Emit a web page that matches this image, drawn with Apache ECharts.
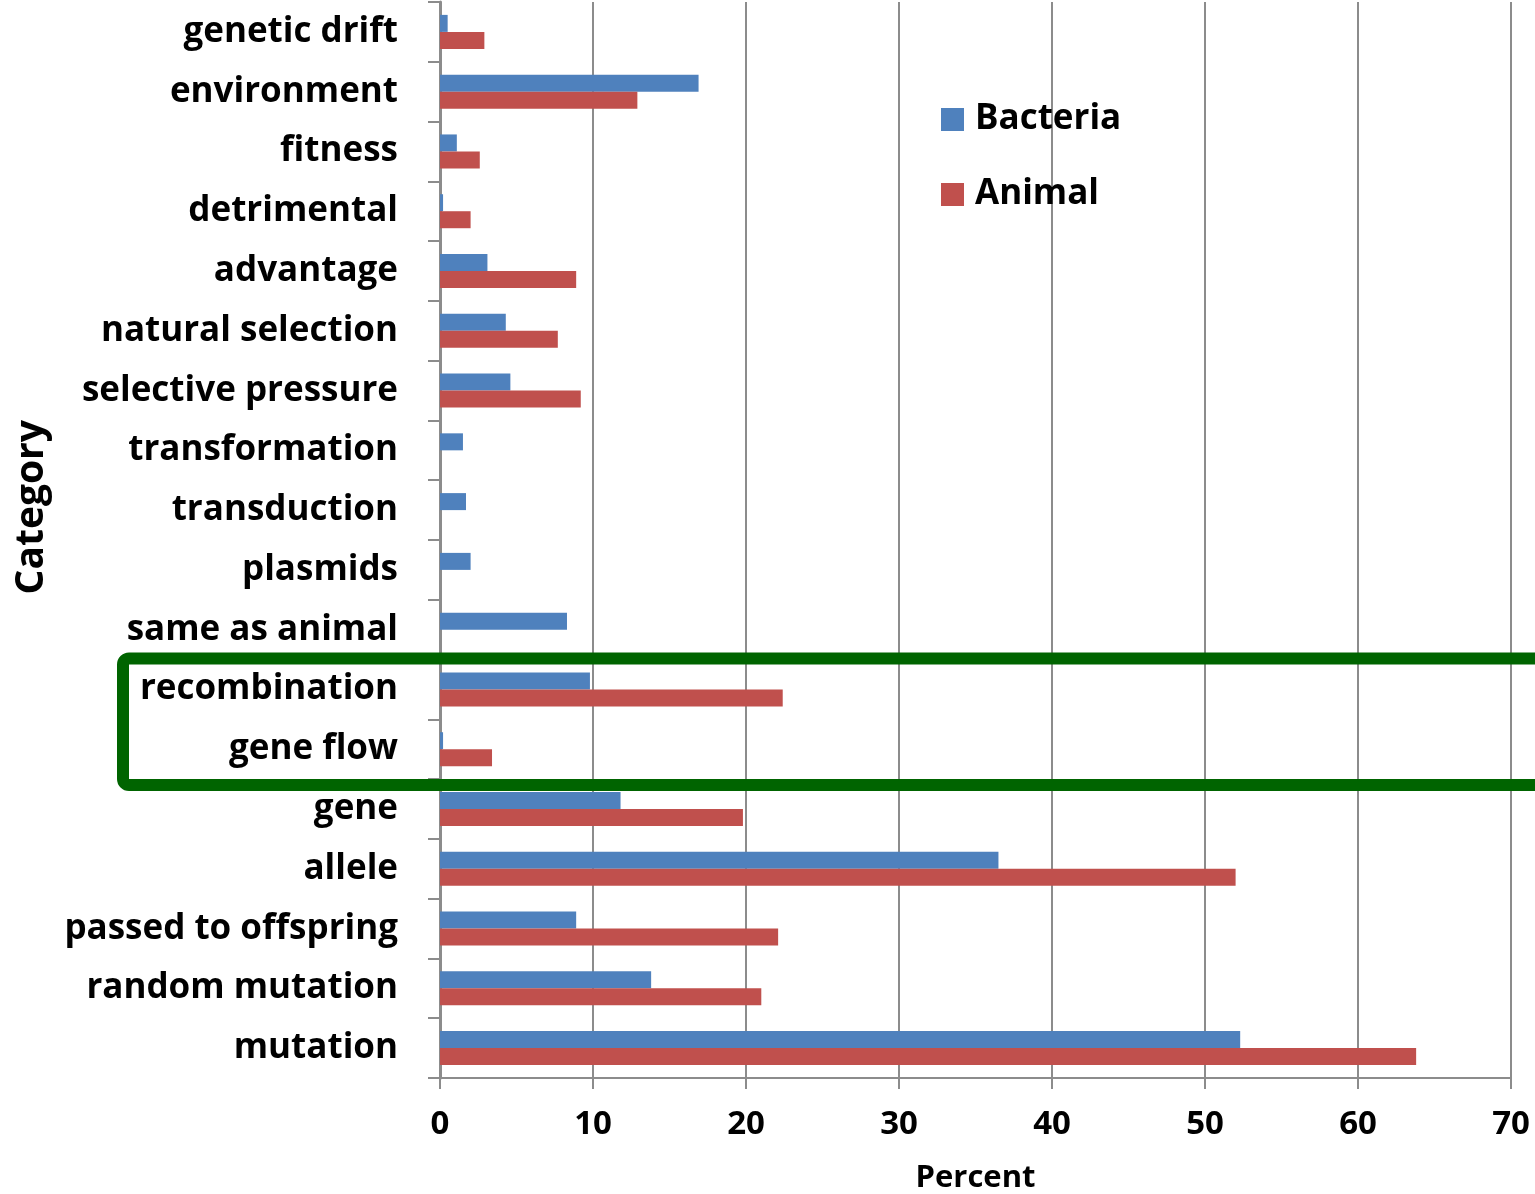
<!DOCTYPE html>
<html>
<head>
<meta charset="utf-8">
<script src="https://cdn.jsdelivr.net/npm/echarts@6/dist/echarts.min.js"></script>
<style>
  html, body { margin: 0; padding: 0; background: #ffffff; }
  #chart { width: 1535px; height: 1194px; }
</style>
</head>
<body>
<div id="chart"></div>
<script>
// Categories, listed top to bottom
const categories = [
  'genetic drift', 'environment', 'fitness', 'detrimental', 'advantage',
  'natural selection', 'selective pressure', 'transformation', 'transduction',
  'plasmids', 'same as animal', 'recombination', 'gene flow', 'gene', 'allele',
  'passed to offspring', 'random mutation', 'mutation'
];

// Percent of responses per category
const bacteria = [0.5, 16.9, 1.1, 0.2, 3.1, 4.3, 4.6, 1.5, 1.7, 2.0, 8.3, 9.8, 0.2, 11.8, 36.5, 8.9, 13.8, 52.3];
const animal   = [2.9, 12.9, 2.6, 2.0, 8.9, 7.7, 9.2, 0, 0, 0, 0, 22.4, 3.4, 19.8, 52.0, 22.1, 21.0, 63.8];

const xTicks = [0, 10, 20, 30, 40, 50, 60, 70];

// Categories framed by the highlight box
const highlighted = ['recombination', 'gene flow'];

const FONT = '"Open Sans", "Liberation Sans", sans-serif';
const AXIS_GREY = '#8c8c8c';

const chart = echarts.init(document.getElementById('chart'));

chart.setOption({
  animation: false,
  backgroundColor: '#ffffff',
  textStyle: { fontFamily: FONT },
  grid: { left: 440, right: 24, top: 2, bottom: 116, containLabel: false },
  legend: {
    orient: 'vertical',
    left: 941,
    top: 102,
    padding: 0,
    itemWidth: 23,
    itemHeight: 23,
    itemGap: 40,
    icon: 'rect',
    data: ['Bacteria', 'Animal'],
    itemStyle: { borderWidth: 0 },
    textStyle: {
      fontFamily: FONT, fontWeight: 'bold', fontSize: 35, color: '#000000',
      padding: [0, 0, 0, 6]
    }
  },
  xAxis: {
    type: 'value',
    min: xTicks[0],
    max: xTicks[xTicks.length - 1],
    interval: 10,
    axisLine: { show: true, lineStyle: { color: AXIS_GREY, width: 2 } },
    axisTick: { show: true, length: 11, lineStyle: { color: AXIS_GREY, width: 2 } },
    splitLine: { show: true, lineStyle: { color: AXIS_GREY, width: 2 } },
    axisLabel: {
      fontFamily: FONT, fontWeight: 'bold', fontSize: 33, color: '#000000', margin: 30
    }
  },
  yAxis: {
    type: 'category',
    inverse: true,
    data: categories,
    axisLine: { show: true, lineStyle: { color: AXIS_GREY, width: 3 } },
    axisTick: { show: true, length: 12, lineStyle: { color: AXIS_GREY, width: 2 } },
    axisLabel: {
      fontFamily: FONT, fontWeight: 'bold', fontSize: 35, color: '#000000', margin: 42
    }
  },
  series: [
    {
      name: 'Bacteria', type: 'bar', data: bacteria, barWidth: 17, barGap: '0%',
      itemStyle: { color: '#4f81bd' }
    },
    {
      name: 'Animal', type: 'bar', data: animal, barWidth: 17, barGap: '0%',
      itemStyle: { color: '#c0504d' }
    }
  ]
});

// Axis titles and the green box around the highlighted category rows
const yTop = chart.convertToPixel({ yAxisIndex: 0 }, highlighted[0]);
const yBottom = chart.convertToPixel({ yAxisIndex: 0 }, highlighted[highlighted.length - 1]);
const band = chart.convertToPixel({ yAxisIndex: 0 }, categories[1]) -
             chart.convertToPixel({ yAxisIndex: 0 }, categories[0]);
const xMid = (chart.convertToPixel({ xAxisIndex: 0 }, xTicks[0]) +
              chart.convertToPixel({ xAxisIndex: 0 }, xTicks[xTicks.length - 1])) / 2;

chart.setOption({
  graphic: [
    {
      type: 'text', x: 12, y: 420, rotation: Math.PI / 2,
      style: { text: 'Category', font: 'bold 39px ' + FONT, fill: '#000000', textAlign: 'right', textVerticalAlign: 'top' }
    },
    {
      type: 'text', x: xMid, y: 1163,
      style: { text: 'Percent', font: 'bold 31px ' + FONT, fill: '#000000', textAlign: 'center' }
    },
    {
      type: 'rect', z: 100,
      shape: { x: 123, y: yTop - band / 2 - 1, width: 1460, height: (yBottom - yTop) + band + 7, r: 6 },
      style: { fill: 'none', stroke: '#006400', lineWidth: 12 }
    }
  ]
});
</script>
</body>
</html>
